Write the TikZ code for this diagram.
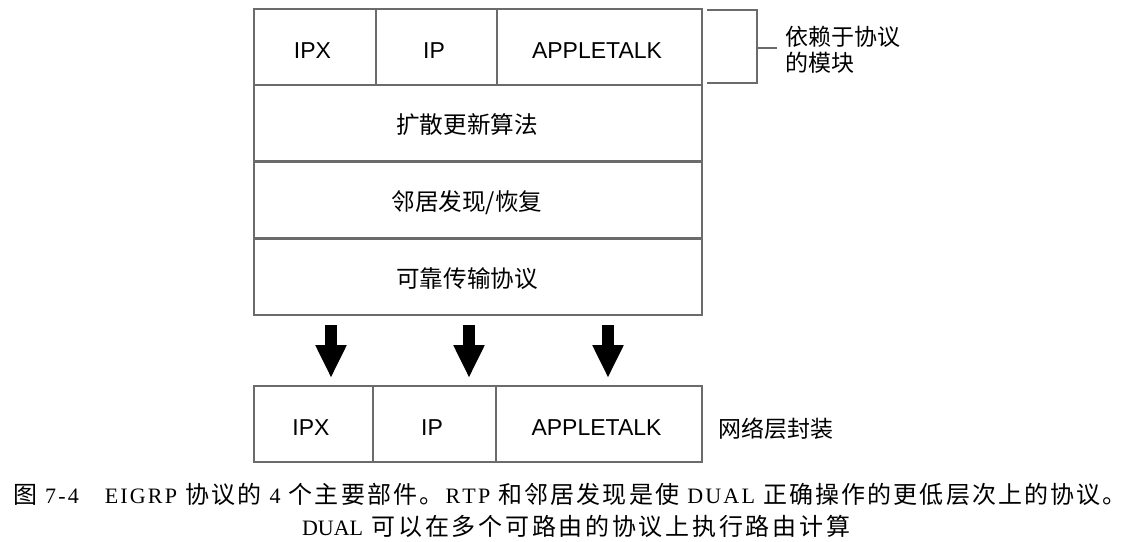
\documentclass[tikz,border=0pt]{standalone}
\usepackage{fontspec}
\setmainfont{Liberation Serif}
\setsansfont{Liberation Sans}
\newfontfamily\cjk{Noto Sans CJK SC}
\usetikzlibrary{arrows.meta}
\definecolor{boxline}{gray}{0.42}
% spread letters of a word with stretchable glue
\makeatletter
\def\sp@end{\sp@end}
\def\spreadword#1{\sp@first#1\sp@end}
\def\sp@first#1{#1\sp@step}
\def\sp@step#1{\ifx#1\sp@end\else\hskip 0pt plus 1fil\relax#1\expandafter\sp@step\fi}
\makeatother
\newcommand{\capzh}[1]{{\cjk\fontsize{12}{13}\selectfont\spreadword{#1}}}
\newcommand{\capla}[1]{\spreadword{#1}}
\newcommand{\gap}{\hskip 0pt plus 1fil\relax}
\newcommand{\sgap}{\hskip 3pt plus 1fil\relax}

\begin{document}
\begin{tikzpicture}[x=0.5pt,y=-0.5pt]
 	\def \rowone{46.5}
 	\def \rowtwo{122.5}
 	\def \rowthree{199.5}
 	\def \rowfour{276.5}
 	\def \basement{424}
 	\def \midcol{478}

 	\tikzstyle{cell}=[draw=boxline,line width=1pt,inner sep=0pt,minimum height=38pt,text height=11.7pt,text depth=0pt,font=\sffamily\fontsize{11.5}{13}\selectfont,execute at begin node=\hspace*{-2.5pt}]
 	\tikzstyle{zhcell}=[cell,minimum width=224pt,text height=12.8pt,text depth=1.5pt,font=\cjk\fontsize{11.8}{13}\selectfont,execute at begin node=\hspace*{-8.5pt}]
 	\tikzstyle{fat}=[line width=6pt,-{Triangle[width=14.5pt,length=16.5pt]}]
 	\tikzstyle{annot}=[anchor=west,align=left,inner sep=0pt,font=\cjk\fontsize{11.5}{13}\selectfont]
 	\tikzstyle{caption}=[inner sep=0pt,font=\fontsize{11}{13}\selectfont]

 	\useasboundingbox (0,0) rectangle (1140,541);

 	% protocol dependent modules
 	\node[cell,minimum width=61pt] 		(ipx)	at (315,\rowone)	{IPX};
 	\node[cell,minimum width=60.5pt] 	(ip)	at (436.5,\rowone)	{IP};
 	\node[cell,minimum width=102.5pt] 	(atk)	at (599.5,\rowone)	{APPLETALK};

 	\node[zhcell] 	(dual)	at (\midcol,\rowtwo)	{扩散更新算法};
 	\node[zhcell] 	(nbr)	at (\midcol,\rowthree)	{邻居发现/恢复};
 	\node[zhcell] 	(rtp)	at (\midcol,\rowfour)	{可靠传输协议};

 	% network layer
 	\node[cell,minimum width=59.5pt] 	(nipx)	at (313.5,\basement)	{IPX};
 	\node[cell,minimum width=61.5pt] 	(nip)	at (434.5,\basement)	{IP};
 	\node[cell,minimum width=103pt] 	(natk)	at (599,\basement)	{APPLETALK};

 	\node[annot] 	(nlabel)	at (718,429)	{网络层封装};

 	% bracket
 	\draw[boxline,line width=1pt] (707,10) -- (757,10) -- (757,83) -- (707,83);
 	\coordinate (tick) at (777,48);
 	\draw[boxline,line width=1pt] (757,48) -- (tick);
 	\node[annot] 	(mlabel)	at (785,50)	{依赖于协议\\的模块};

 	\coordinate (a1) at (331,325);
 	\coordinate (b1) at (331,378);
 	\coordinate (a2) at (469,325);
 	\coordinate (b2) at (469,378);
 	\coordinate (a3) at (608,325);
 	\coordinate (b3) at (608,378);
 	\draw[fat] (a1) -- (b1);
 	\draw[fat] (a2) -- (b2);
 	\draw[fat] (a3) -- (b3);

 	% caption
 	\node[caption] 	(cap1)	at (570,494)	{\makebox[557pt][s]{\capzh{图}\sgap\capla{7-4}\hskip 12pt plus 1fil\capla{EIGRP}\sgap\capzh{协议的}\sgap\capla{4}\sgap\capzh{个主要部件。}\gap\capla{RTP}\sgap\capzh{和邻居发现是使}\sgap\capla{DUAL}\sgap\capzh{正确操作的更低层次上的协议。}}};
 	\node[caption] 	(cap2)	at (576,526)	{\makebox[274pt][s]{DUAL\sgap\capzh{可以在多个可路由的协议上执行路由计算}}};

\end{tikzpicture}
\end{document}
